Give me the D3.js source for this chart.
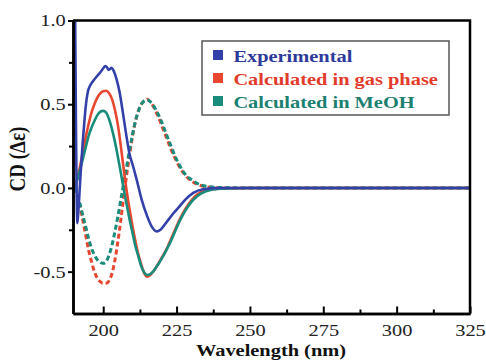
<!DOCTYPE html>
<html>
<head>
<meta charset="utf-8">
<script src="https://cdn.jsdelivr.net/npm/d3@7"></script>
<style>body{margin:0;background:#fff}</style>
</head>
<body>
<svg width="486" height="360"></svg>
<script>
// experimental CD spectrum
var expWl = [190.4, 191.2, 191.6, 192, 192.5, 193, 193.5, 194, 194.8, 195.5, 196.5, 198, 199.3, 200, 200.7, 201.3, 201.8, 202.3, 202.8, 203.4, 204, 204.6, 205.6, 206.7, 208, 209, 210, 211.4, 213.1, 215, 216.5, 218.2, 219.5, 220.5, 222, 224, 226, 228, 230.7, 234, 240, 325];
var expCD = [1.1, -0.21, -0.12, 0.0, 0.14, 0.27, 0.38, 0.48, 0.577, 0.61, 0.637, 0.67, 0.697, 0.715, 0.728, 0.72, 0.705, 0.71, 0.718, 0.705, 0.68, 0.645, 0.57, 0.45, 0.30, 0.2, 0.14, 0.05, -0.07, -0.17, -0.23, -0.26, -0.25, -0.23, -0.195, -0.15, -0.11, -0.07, -0.03, -0.008, 0, 0];

var calcWl = [190, 191, 192, 193, 194, 195, 196, 197, 198, 199, 200, 201, 202, 203, 204, 205, 206, 207, 208, 209, 210, 211, 212, 213, 214, 215, 216, 217, 218, 219, 220, 221, 222, 223, 224, 226, 228, 230, 232, 235, 240, 250, 325];
// calculated, gas phase (solid) and its mirror (dashed)
var gasCD = [0, 0.05, 0.12, 0.21, 0.30, 0.38, 0.45, 0.50, 0.54, 0.565, 0.578, 0.58, 0.565, 0.53, 0.465, 0.375, 0.25, 0.11, -0.02, -0.13, -0.23, -0.32, -0.40, -0.46, -0.51, -0.53, -0.52, -0.50, -0.475, -0.445, -0.415, -0.385, -0.35, -0.31, -0.27, -0.19, -0.125, -0.075, -0.04, -0.015, -0.003, 0, 0];
var gasEntCD = [0, -0.04, -0.10, -0.19, -0.28, -0.37, -0.44, -0.50, -0.54, -0.56, -0.57, -0.57, -0.555, -0.51, -0.43, -0.32, -0.19, -0.05, 0.08, 0.20, 0.31, 0.40, 0.46, 0.50, 0.52, 0.53, 0.515, 0.49, 0.455, 0.415, 0.37, 0.325, 0.28, 0.235, 0.195, 0.125, 0.075, 0.042, 0.022, 0.007, 0, 0, 0];
// calculated in MeOH
var meohCD = [0, 0.04, 0.10, 0.17, 0.24, 0.31, 0.36, 0.40, 0.435, 0.455, 0.46, 0.45, 0.41, 0.35, 0.275, 0.185, 0.09, -0.01, -0.10, -0.19, -0.27, -0.35, -0.41, -0.47, -0.505, -0.52, -0.515, -0.50, -0.475, -0.45, -0.42, -0.39, -0.355, -0.32, -0.28, -0.20, -0.135, -0.085, -0.05, -0.02, -0.005, 0, 0];
var meohEntCD = [0, -0.03, -0.09, -0.16, -0.23, -0.30, -0.36, -0.40, -0.43, -0.445, -0.45, -0.44, -0.40, -0.34, -0.26, -0.17, -0.07, 0.03, 0.13, 0.23, 0.32, 0.40, 0.46, 0.50, 0.52, 0.525, 0.515, 0.495, 0.465, 0.43, 0.39, 0.345, 0.30, 0.255, 0.21, 0.135, 0.08, 0.05, 0.028, 0.01, 0.002, 0, 0];

var xTicks = [200, 225, 250, 275, 300, 325];
var xMinor = [212.5, 237.5, 262.5, 287.5, 312.5];
var yTicks = [-0.5, 0.0, 0.5, 1.0];
var yMinor = [-0.25, 0.25, 0.75];
var legendNames = ['Experimental', 'Calculated in gas phase', 'Calculated in MeOH'];

var blue = '#3340aa', red = '#e8472f', teal = '#1a8c7c';

var svg = d3.select('svg');
var x = d3.scaleLinear().domain([189.7, 325]).range([73, 470]);
var y = d3.scaleLinear().domain([-0.75, 1.0]).range([313.5, 20.5]);

svg.append('clipPath').attr('id', 'clip')
  .append('rect').attr('x', 73).attr('y', 20.5).attr('width', 397).attr('height', 293);

var line = d3.line().x(d => x(d[0])).y(d => y(d[1])).curve(d3.curveMonotoneX);
var zip = (a, b) => a.map((v, i) => [v, b[i]]);

var series = [
  {wl: calcWl, cd: gasEntCD, color: red, dash: '5,3'},
  {wl: calcWl, cd: meohEntCD, color: teal, dash: '5,3'},
  {wl: calcWl, cd: gasCD, color: red, dash: null},
  {wl: calcWl, cd: meohCD, color: teal, dash: null},
  {wl: expWl, cd: expCD, color: blue, dash: null}
];
var g = svg.append('g').attr('clip-path', 'url(#clip)');
g.selectAll('path').data(series).enter().append('path')
  .attr('d', d => line(zip(d.wl, d.cd)))
  .attr('fill', 'none')
  .attr('stroke', d => d.color)
  .attr('stroke-width', d => d.dash ? 3 : 2.6)
  .attr('stroke-dasharray', d => d.dash)
  .attr('stroke-linejoin', 'round');

// frame
svg.append('path').attr('d', 'M73,20.5H470V313.5').attr('fill', 'none')
  .attr('stroke', '#000').attr('stroke-width', 2.5);

var xAxis = d3.axisBottom(x).tickValues(xTicks).tickSize(-7).tickSizeOuter(0).tickPadding(10).tickFormat(d3.format('d'));
var xAxisMinor = d3.axisBottom(x).tickValues(xMinor).tickSize(-4).tickSizeOuter(0).tickFormat('');
var yAxis = d3.axisLeft(y).tickValues(yTicks).tickSize(5).tickSizeOuter(0).tickPadding(1).tickFormat(d3.format('.1f'));
var yAxisMinor = d3.axisLeft(y).tickValues(yMinor).tickSize(4).tickSizeOuter(0).tickFormat('');

svg.append('g').attr('transform', 'translate(0,313.5)').call(xAxisMinor);
svg.append('g').attr('id', 'xAxisG').attr('transform', 'translate(0,313.5)').call(xAxis);
svg.append('g').attr('transform', 'translate(73,0)').call(yAxisMinor);
svg.append('g').attr('id', 'yAxisG').attr('transform', 'translate(73,0)').call(yAxis);

svg.selectAll('.domain').attr('stroke-width', 2.5);
svg.selectAll('.tick line').attr('stroke-width', 2);
svg.selectAll('.tick text')
  .attr('font-family', '"Liberation Serif", "Times New Roman", serif')
  .attr('font-size', 17).attr('fill', '#222')
  .attr('transform', 'scale(1.2,1)');
d3.selectAll('#yAxisG .tick text').text(d => d < 0 ? '-' + d3.format('.1f')(-d) : d3.format('.1f')(d));

// axis titles
svg.append('text').attr('x', 271).attr('y', 356)
  .attr('transform', 'translate(271,0) scale(1.2,1) translate(-271,0)')
  .attr('text-anchor', 'middle')
  .attr('font-family', '"Liberation Serif", serif').attr('font-weight', 'bold')
  .attr('font-size', 17).attr('fill', '#111')
  .text('Wavelength (nm)');
svg.append('text')
  .attr('transform', 'translate(25,159) scale(1.2,1) rotate(-90)')
  .attr('text-anchor', 'middle')
  .attr('font-family', '"Liberation Serif", serif').attr('font-weight', 'bold')
  .attr('font-size', 19).attr('fill', '#111')
  .text('CD (Δε)');

// legend
svg.append('rect').attr('x', 202).attr('y', 41).attr('width', 247).attr('height', 74)
  .attr('fill', '#fff').attr('stroke', '#555').attr('stroke-width', 1.5);
var legendColors = [blue, red, teal];
var legendTextColors = ['#2e3a9a', '#e23b2a', '#1b8070'];
var lg = svg.selectAll('.lg').data(legendNames).enter().append('g')
  .attr('transform', (d, i) => 'translate(213,' + (62 + i * 23) + ')');
lg.append('rect').attr('x', 0).attr('y', -12).attr('width', 10).attr('height', 10)
  .attr('fill', (d, i) => legendColors[i]);
lg.append('text').attr('x', 17).attr('y', 0)
  .attr('transform', 'scale(1.2,1)')
  .attr('font-family', '"Liberation Serif", serif').attr('font-weight', 'bold')
  .attr('font-size', 17).attr('fill', (d, i) => legendTextColors[i])
  .text(d => d);
</script>
</body>
</html>
